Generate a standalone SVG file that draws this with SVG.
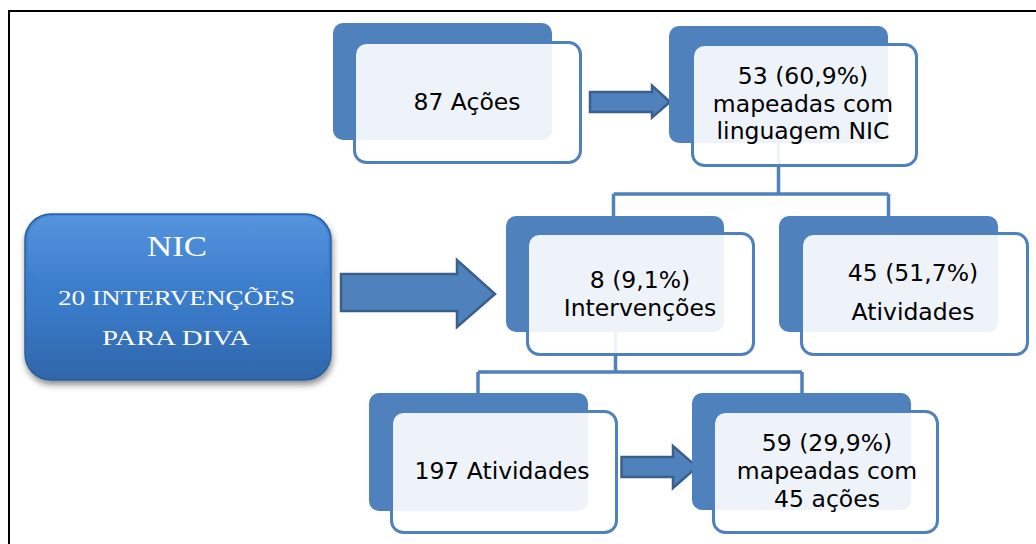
<svg xmlns="http://www.w3.org/2000/svg" width="1036" height="544" viewBox="0 0 1036 544">
<defs>
<style>
.back{fill:#4F81BD}
.front{fill:#FFFFFF;fill-opacity:0.9;stroke:#4F81BD;stroke-width:3}
.conn{fill:none;stroke:#4F81BD;stroke-width:3.5}
.arrow{fill:#4F81BD;stroke:#3A5F8C;stroke-width:2.5;stroke-linejoin:miter}
.t{font-family:"DejaVu Sans","Noto Sans",sans-serif;font-size:23.5px;fill:#000000;text-anchor:middle}
.s{font-family:"Liberation Serif","Times New Roman",serif;fill:#FFFFFF;text-anchor:middle}
</style>
<linearGradient id="nicg" x1="0" y1="0" x2="0" y2="1">
<stop offset="0" stop-color="#3F86D8"/>
<stop offset="0.55" stop-color="#3A7BC9"/>
<stop offset="1" stop-color="#2F66AA"/>
</linearGradient>
<linearGradient id="gloss" x1="0" y1="0" x2="0" y2="1">
<stop offset="0" stop-color="#FFFFFF" stop-opacity="0.12"/>
<stop offset="1" stop-color="#FFFFFF" stop-opacity="0"/>
</linearGradient>
<filter id="sh" x="-10%" y="-10%" width="125%" height="130%">
<feDropShadow dx="1" dy="4" stdDeviation="3" flood-color="#000000" flood-opacity="0.45"/>
</filter>
</defs>
<rect x="9" y="11" width="1040" height="540" fill="#FFFFFF" stroke="#000000" stroke-width="2"/>
<g id="connectors">
<path class="conn" d="M778.5 143 V194 M613.5 194 H888.5 M613.5 194 V216 M888.5 194 V216"/>
<path class="conn" d="M615.5 332 V372 M478 372 H802 M478 372 V393 M802 372 V393"/>
<path class="arrow" d="M590 92 H652 V85.5 L670 102 L652 117.5 V112 H590 Z"/>
<path class="arrow" d="M341 274 H457 V260 L495 294 L457 327 V311 H341 Z"/>
<path class="arrow" d="M621.5 457 H673 V446 L697 467 L673 488 V477 H621.5 Z"/>
</g>
<g id="node-nic">
<rect x="25" y="214" width="306" height="166" rx="26" fill="url(#nicg)" stroke="#2D5E9C" stroke-width="1.5" filter="url(#sh)"/>
<rect x="28" y="216" width="300" height="70" rx="24" fill="url(#gloss)"/>
<text class="s" x="177" y="256" font-size="29" textLength="60" lengthAdjust="spacingAndGlyphs">NIC</text>
<text class="s" x="176.5" y="305" font-size="22" textLength="237" lengthAdjust="spacingAndGlyphs">20 INTERVENÇÕES</text>
<text class="s" x="176" y="345" font-size="22" textLength="148" lengthAdjust="spacingAndGlyphs">PARA DIVA</text>
</g>
<g id="node-acoes">
<rect class="back" x="333" y="23" width="219" height="117" rx="10"/>
<rect class="front" x="354.5" y="42.5" width="226" height="120" rx="12"/>
<text class="t" x="467" y="110">87 Ações</text>
</g>
<g id="node-mapeadas-nic">
<rect class="back" x="669" y="26" width="219" height="117" rx="10"/>
<rect class="front" x="692.5" y="44.5" width="224" height="121" rx="12"/>
<text class="t" x="803" y="84">53 (60,9%)</text>
<text class="t" x="803" y="112">mapeadas com</text>
<text class="t" x="803" y="139">linguagem NIC</text>
</g>
<g id="node-intervencoes">
<rect class="back" x="506" y="216" width="218" height="116" rx="10"/>
<rect class="front" x="527.5" y="233.5" width="226" height="121" rx="12"/>
<text class="t" x="640" y="288">8 (9,1%)</text>
<text class="t" x="640" y="316">Intervenções</text>
</g>
<g id="node-atividades45">
<rect class="back" x="779" y="216" width="219" height="116" rx="10"/>
<rect class="front" x="801.5" y="233.5" width="226" height="121" rx="12"/>
<text class="t" x="913" y="281">45 (51,7%)</text>
<text class="t" x="913" y="320">Atividades</text>
</g>
<g id="node-atividades197">
<rect class="back" x="369" y="393" width="219" height="118" rx="10"/>
<rect class="front" x="391.5" y="411.5" width="225" height="121" rx="12"/>
<text class="t" x="502" y="479">197 Atividades</text>
</g>
<g id="node-mapeadas-acoes">
<rect class="back" x="692" y="393" width="219" height="117" rx="10"/>
<rect class="front" x="713.5" y="411.5" width="224" height="121" rx="12"/>
<text class="t" x="827" y="451">59 (29,9%)</text>
<text class="t" x="827" y="479">mapeadas com</text>
<text class="t" x="827" y="507">45 ações</text>
</g>
</svg>
